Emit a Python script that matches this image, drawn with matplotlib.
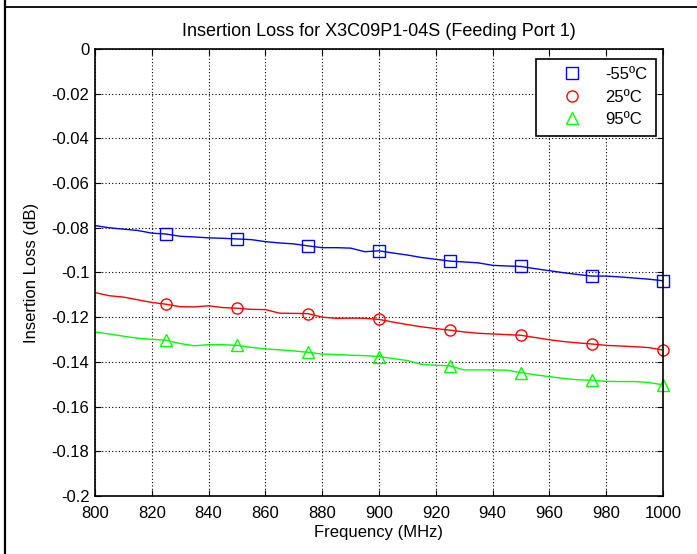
import matplotlib
matplotlib.use("Agg")
import matplotlib.pyplot as plt
from matplotlib.lines import Line2D

plt.rcParams['font.family'] = ['Liberation Sans', 'DejaVu Sans']

# frequency grid of the measured traces (MHz)
freq = [800, 805, 810, 815, 820, 825, 830, 835, 840, 845,
        850, 855, 860, 865, 870, 875, 880, 885, 890, 895,
        900, 905, 910, 915, 920, 925, 930, 935, 940, 945,
        950, 955, 960, 965, 970, 975, 980, 985, 990, 995, 1000]

loss_m55 = [-0.0790, -0.0800, -0.0806, -0.0812, -0.0824, -0.0828, -0.0838, -0.0841, -0.0845, -0.0847,
            -0.0850, -0.0853, -0.0862, -0.0868, -0.0872, -0.0881, -0.0889, -0.0889, -0.0891, -0.0907,
            -0.0903, -0.0913, -0.0922, -0.0933, -0.0941, -0.0949, -0.0953, -0.0957, -0.0968, -0.0971,
            -0.0973, -0.0983, -0.0992, -0.1001, -0.1009, -0.1016, -0.1016, -0.1020, -0.1025, -0.1030, -0.1037]

loss_25 = [-0.1090, -0.1104, -0.1110, -0.1122, -0.1134, -0.1142, -0.1153, -0.1154, -0.1149, -0.1157,
           -0.1160, -0.1165, -0.1166, -0.1182, -0.1183, -0.1184, -0.1200, -0.1205, -0.1204, -0.1205,
           -0.1210, -0.1222, -0.1233, -0.1243, -0.1251, -0.1258, -0.1266, -0.1272, -0.1275, -0.1278,
           -0.1281, -0.1291, -0.1301, -0.1309, -0.1315, -0.1320, -0.1326, -0.1329, -0.1332, -0.1336, -0.1347]

loss_95 = [-0.1266, -0.1275, -0.1285, -0.1294, -0.1299, -0.1303, -0.1318, -0.1328, -0.1323, -0.1323,
           -0.1326, -0.1335, -0.1342, -0.1346, -0.1351, -0.1357, -0.1365, -0.1367, -0.1370, -0.1372,
           -0.1376, -0.1385, -0.1394, -0.1411, -0.1415, -0.1418, -0.1436, -0.1436, -0.1436, -0.1437,
           -0.1448, -0.1458, -0.1466, -0.1474, -0.1480, -0.1482, -0.1487, -0.1488, -0.1488, -0.1492, -0.1503]

labels = ['-55ºC', '25ºC', '95ºC']
colors = ['#0000ff', '#ff0000', '#00ff00']
markers = ['s', 'o', '^']
msizes = [8, 8, 9]

xticks = list(range(800, 1001, 20))
yticks = [0, -0.02, -0.04, -0.06, -0.08, -0.1, -0.12, -0.14, -0.16, -0.18, -0.2]
ytick_labels = ['0', '-0.02', '-0.04', '-0.06', '-0.08', '-0.1', '-0.12', '-0.14', '-0.16', '-0.18', '-0.2']

fig = plt.figure(figsize=(6.97, 5.54), dpi=100)
ax = fig.add_axes([0.1363, 0.1047, 0.8149, 0.8069])

mark_idx = slice(5, None, 5)  # markers every 25 MHz from 825
for vals, lab, c, m, ms in zip([loss_m55, loss_25, loss_95], labels, colors, markers, msizes):
    ax.plot(freq, vals, color=c, lw=1.0)
    ax.plot(freq[mark_idx], vals[mark_idx], ls='none', marker=m, ms=ms,
            mfc='none', mec=c, mew=1.0, label=lab, clip_on=False)

ax.set_xlim(800, 1000)
ax.set_ylim(-0.2, 0)
ax.set_xticks(xticks)
ax.set_yticks(yticks)
ax.set_yticklabels(ytick_labels)
ax.grid(True, color='black', linestyle=(0, (1, 2)), linewidth=0.8)
ax.tick_params(direction='in', top=True, right=True, labelsize=12, length=4)
ax.tick_params(axis='x', pad=7)
ax.tick_params(axis='y', pad=4)
for sp in ax.spines.values():
    sp.set_linewidth(1.2)

ax.set_title('Insertion Loss for X3C09P1-04S (Feeding Port 1)', fontsize=13, pad=9)
ax.set_xlabel('Frequency (MHz)', fontsize=12, labelpad=3)
ax.set_ylabel('Insertion Loss (dB)', fontsize=12, labelpad=9)

leg = ax.legend(loc='upper right', bbox_to_anchor=(1 - 7 / 568, 1 - 10 / 447), fontsize=12,
                fancybox=False, framealpha=1, edgecolor='black', borderaxespad=0,
                handletextpad=0.3, handlelength=3.4, labelspacing=0.45, borderpad=0.5)
leg.get_frame().set_linewidth(1.2)

# page border (left and top edges of the surrounding cell)
fig.add_artist(Line2D([5 / 697, 5 / 697], [0, 1], transform=fig.transFigure, color='black', lw=1.6))
fig.add_artist(Line2D([5 / 697, 1], [1 - 6.5 / 554, 1 - 6.5 / 554], transform=fig.transFigure, color='black', lw=1.3))

fig.savefig('out.png', dpi=100)
